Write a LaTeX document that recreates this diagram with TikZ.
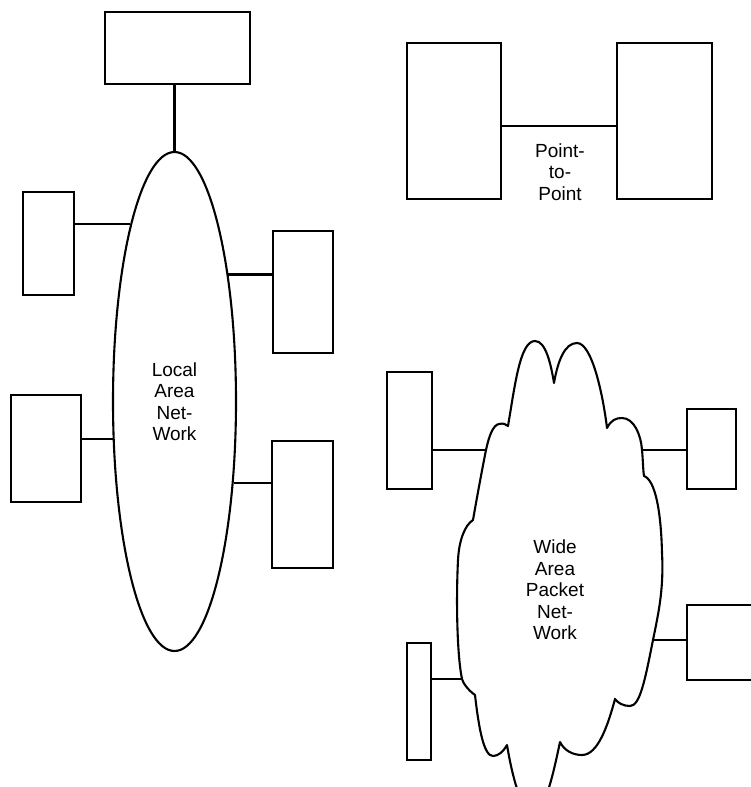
\documentclass[tikz,border=0pt]{standalone}
\usepackage{fontspec}
\setmainfont{Liberation Sans}
\usetikzlibrary{shapes.geometric,calc}
\tikzset{
  termbox/.style={draw, line width=2.3pt, inner sep=0pt, minimum width=#1},
  conn/.style={line width=2.1pt},
  lbl/.style={align=center, inner sep=0pt, font=\fontsize{19}{21.5}\selectfont},
}
\begin{document}
\begin{tikzpicture}[x=1pt, y=-1pt]
\useasboundingbox (0,0) rectangle (751,787);
\clip (0,0) rectangle (751,787);

% Local area network
\node[draw, ellipse, line width=2.1pt, inner sep=0pt, minimum width=123pt, minimum height=499pt, lbl] (lan) at (174.5,401.5) {Local\\Area\\Net-\\Work};
\node[termbox=145pt, minimum height=72pt] (top) at (177.5,48) {};
\node[termbox=51pt, minimum height=103pt] (lb1) at (48.5,243.5) {};
\node[termbox=60pt, minimum height=122pt] (rb1) at (303,292) {};
\node[termbox=70pt, minimum height=107pt] (lb2) at (46,448.5) {};
\node[termbox=61pt, minimum height=127pt] (rb2) at (302.5,504.5) {};

\draw[conn] (lan.north) -- (lan.north |- top.south);
\draw[conn] (lan.104.93) -- (lan.104.93 -| lb1.east);
\draw[conn] (lan.67.7) -- (lan.67.7 -| rb1.west);
\draw[conn] (lan.211.67) -- (lan.211.67 -| lb2.east);
\draw[conn] (lan.306.65) -- (lan.306.65 -| rb2.west);

% Point-to-point
\node[termbox=94pt, minimum height=156pt] (pl) at (454,121) {};
\node[termbox=95pt, minimum height=156pt] (pr) at (664.5,121) {};
\draw[conn] ([yshift=-5pt]pl.east) -- ([yshift=-5pt]pr.west);
\node[lbl] (ptp) at (560,172) {Point-\\to-\\Point};

% Wide area packet network (cloud)
\coordinate (w1) at (486,450);
\coordinate (w2) at (642,450);
\coordinate (w3) at (653,640);
\coordinate (w4) at (462,679);
\draw[line width=2.1pt, line join=round]
  (508,426) .. controls (515,385) and (520,341) .. (535,341)
  .. controls (546,341) and (551,365) .. (554,383)
  .. controls (558,360) and (565,343) .. (577,343)
  .. controls (592,343) and (603,395) .. (607,428)
  .. controls (611,420) and (616,418) .. (622,418)
  .. controls (634,418) and (641,435) .. (w2)
  .. controls (643,460) and (643,470) .. (644,476)
  .. controls (655,480) and (661,510) .. (662,553)
  .. controls (664,590) and (658,615) .. (w3)
  .. controls (645,680) and (640,706) .. (630,706)
  .. controls (623,706) and (618,703) .. (615,699)
  .. controls (608,725) and (598,755) .. (582,755)
  .. controls (572,755) and (564,750) .. (560,742)
  .. controls (553,775) and (545,812) .. (533,812)
  .. controls (521,812) and (512,775) .. (507,745)
  .. controls (503,752) and (498,756) .. (493,756)
  .. controls (484,756) and (479,730) .. (475,695)
  .. controls (468,690) and (463,683) .. (w4)
  .. controls (457,655) and (456,600) .. (458,560)
  .. controls (459,540) and (465,525) .. (473,520)
  .. controls (477,497) and (482,470) .. (w1)
  .. controls (489,436) and (493,425) .. (499,424)
  .. controls (503,423) and (506,424) .. (508,426) -- cycle;
\node[lbl] (wan) at (555,590) {Wide\\Area\\Packet\\Net-\\Work};

\node[termbox=45pt, minimum height=117pt] (cl1) at (409.5,430.5) {};
\node[termbox=49pt, minimum height=80pt] (cr1) at (711.5,449) {};
\node[termbox=93pt, minimum height=75pt] (cr2) at (733.5,642.5) {};
\node[termbox=24pt, minimum height=117pt] (cl2) at (419,701.5) {};

\draw[conn] (cl1.east |- w1) -- (w1);
\draw[conn] (w2) -- (w2 -| cr1.west);
\draw[conn] (w3) -- (w3 -| cr2.west);
\draw[conn] (cl2.east |- w4) -- (w4);
\end{tikzpicture}
\end{document}
